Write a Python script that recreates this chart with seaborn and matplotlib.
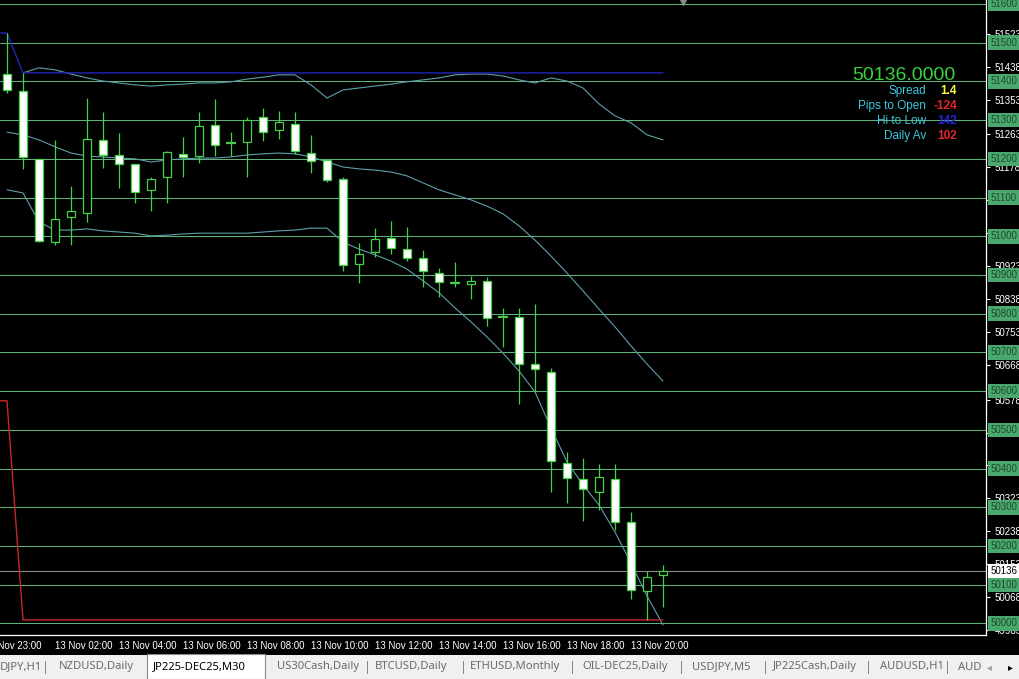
import matplotlib
matplotlib.use("Agg")
import matplotlib.pyplot as plt
import matplotlib.transforms as mtransforms
from matplotlib.patches import Rectangle
import seaborn as sns

# JP225-DEC25, M30 candles (bar 0 = first visible bar)
bar_idx = list(range(42))
opens = [51419, 51375, 51200, 50985, 51050, 51060, 51249, 51210, 51187, 51120,
         51153, 51213, 51207, 51287, 51241, 51244, 51308, 51275, 51290, 51215,
         51197, 51148, 50928, 50959, 50996, 50967, 50944, 50905, 50879, 50877,
         50885, 50792, 50792, 50670, 50649, 50414, 50373, 50340, 50373, 50262,
         50084, 50125]
highs = [51525, 51422, 51200, 51249, 51130, 51357, 51321, 51267, 51187, 51153,
         51220, 51256, 51321, 51355, 51269, 51308, 51331, 51324, 51321, 51262,
         51197, 51153, 50983, 51021, 51040, 51024, 50965, 50918, 50934, 50897,
         50895, 50815, 50815, 50825, 50660, 50443, 50427, 50412, 50412, 50288,
         50135, 50151]
lows = [51370, 51174, 50985, 50978, 50978, 51037, 51176, 51125, 51086, 51065,
        51086, 51153, 51189, 51207, 51207, 51153, 51246, 51251, 51213, 51163,
        51140, 50910, 50879, 50947, 50954, 50936, 50869, 50843, 50869, 50838,
        50768, 50714, 50567, 50598, 50340, 50311, 50265, 50293, 50241, 50063,
        50009, 50042]
closes = [51378, 51205, 50988, 51045, 51065, 51251, 51210, 51187, 51114, 51148,
          51218, 51205, 51285, 51236, 51241, 51300, 51269, 51295, 51220, 51194,
          51145, 50926, 50954, 50993, 50970, 50944, 50910, 50882, 50879, 50885,
          50789, 50792, 50670, 50657, 50420, 50376, 50347, 50378, 50262, 50086,
          50120, 50136]

# bands
upper_idx = list(range(1, 42))
upper_band = [51422, 51435, 51430, 51419, 51409, 51401, 51396, 51391, 51388, 51391,
              51393, 51396, 51396, 51399, 51406, 51411, 51417, 51417, 51391, 51357,
              51378, 51383, 51388, 51393, 51399, 51404, 51409, 51417, 51419, 51419,
              51414, 51404, 51396, 51409, 51401, 51383, 51342, 51311, 51293, 51262,
              51249]
middle_band = [51269, 51262, 51249, 51231, 51215, 51207, 51205, 51202, 51200, 51192,
               51197, 51200, 51202, 51202, 51205, 51210, 51213, 51215, 51213, 51205,
               51192, 51179, 51174, 51171, 51166, 51156, 51138, 51120, 51107, 51094,
               51078, 51058, 51027, 50990, 50949, 50905, 50859, 50812, 50766, 50717,
               50670, 50626]
lower_band = [51120, 51112, 51037, 51016, 51016, 51019, 51014, 51011, 51008, 51001,
              51003, 51006, 51008, 51008, 51008, 51008, 51011, 51014, 51016, 51021,
              51021, 50985, 50967, 50952, 50936, 50915, 50885, 50854, 50815, 50779,
              50740, 50698, 50652, 50598, 50505, 50417, 50358, 50306, 50236, 50156,
              50071, 49996]

# day high / low step lines
day_line_idx = [-1, 0, 1, 41]
day_high = [51525, 51525, 51422, 51422]
day_low = [50575, 50575, 50009, 50009]

current_price = 50136
grid_levels = [50000, 50100, 50200, 50300, 50400, 50500, 50600, 50700, 50800,
               50900, 51000, 51100, 51200, 51300, 51400, 51500, 51600]
scale_ticks = [51523, 51438, 51353, 51263, 51178, 51093, 51008, 50923, 50838,
               50753, 50668, 50578, 50493, 50408, 50323, 50238, 50153, 50068, 49983]

time_tick_idx = [3, 7, 11, 15, 19, 23, 27, 31, 35, 39]
time_tick_labels = ["13 Nov 02:00", "13 Nov 04:00", "13 Nov 06:00", "13 Nov 08:00",
                    "13 Nov 10:00", "13 Nov 12:00", "13 Nov 14:00", "13 Nov 16:00",
                    "13 Nov 18:00", "13 Nov 20:00"]
first_tick_idx = -1
first_tick_label = "12 Nov 23:00"

info_labels = ["Spread", "Pips to Open", "Hi to Low", "Daily Av"]
info_values = ["1.4", "-124", "142", "102"]
info_colors = ["#ffff33", "#e8262a", "#2424e0", "#e8262a"]

tab_labels = ["DJPY,H1", "NZDUSD,Daily", "JP225-DEC25,M30", "US30Cash,Daily",
              "BTCUSD,Daily", "ETHUSD,Monthly", "OIL-DEC25,Daily", "USDJPY,M5",
              "JP225Cash,Daily", "AUDUSD,H1", "AUD"]
active_tab = "JP225-DEC25,M30"

# layout (pixels)
W, H = 1020, 679
tab_left_px = [0, 59, 153, 277, 375, 470, 582, 692, 773, 880, 958]
sep_px = [45, 367, 463, 572, 681, 765, 868, 947]

CANDLE = "#45d045"
GRID = "#62b27c"
BAND = "#5f9eac"

sns.set_theme(style="dark", rc={"axes.facecolor": "black", "figure.facecolor": "black"})
plt.rcParams["font.family"] = ["Liberation Sans", "DejaVu Sans"]

fig = plt.figure(figsize=(W / 100, H / 100), dpi=100, facecolor="black")
ax = fig.add_axes([0, 44 / H, 986 / W, 635 / H])
ax.set_facecolor("black")

y_top = 51610.3
y_bot = 49970.1
ax.set_xlim(-0.4375, 61.1875)
ax.set_ylim(y_bot, y_top)

for lv in grid_levels:
    ax.axhline(lv, color=GRID, lw=0.75, zorder=1)
ax.axhline(current_price, color="#8e8e8e", lw=0.75, zorder=1.5)

sns.lineplot(x=upper_idx, y=upper_band, ax=ax, color=BAND, lw=0.8, zorder=2)
sns.lineplot(x=bar_idx, y=middle_band, ax=ax, color=BAND, lw=0.8, zorder=2)
sns.lineplot(x=bar_idx, y=lower_band, ax=ax, color=BAND, lw=0.8, zorder=2)
sns.lineplot(x=day_line_idx, y=day_high, ax=ax, color="#2323b8", lw=1.0, zorder=2.2)
sns.lineplot(x=day_line_idx, y=day_low, ax=ax, color="#c82828", lw=1.0, zorder=2.2)

# candles
ax.vlines(bar_idx, lows, highs, color=CANDLE, lw=0.9, zorder=3)
for i, o, c in zip(bar_idx, opens, closes):
    if o == c:
        ax.hlines(o, i - 0.3, i + 0.3, color=CANDLE, lw=1.6, zorder=4)
        continue
    face = "black" if c > o else "white"
    ax.bar(i, abs(c - o), bottom=min(o, c), width=0.56, color=face,
           edgecolor=CANDLE, linewidth=0.9, zorder=4)

# axes frame
for side in ["top", "left"]:
    ax.spines[side].set_visible(False)
for side in ["right", "bottom"]:
    ax.spines[side].set_color("white")
    ax.spines[side].set_linewidth(0.9)

# price scale
ax.yaxis.tick_right()
ax.set_yticks(scale_ticks)
ax.set_yticklabels([str(v) for v in scale_ticks])
ax.tick_params(axis="y", colors="white", labelsize=7, length=3, width=0.8, pad=3)
ax.grid(False)

trans = mtransforms.blended_transform_factory(ax.transAxes, ax.transData)
for lv in grid_levels:
    ax.text(1.0046, lv, str(lv), transform=trans, ha="left", va="center",
            fontsize=7, color="#1d4a2e", zorder=6, clip_on=False,
            bbox=dict(facecolor="#4aa86e", edgecolor="none", pad=1.6))
ax.text(1.0046, current_price, str(current_price), transform=trans, ha="left",
        va="center", fontsize=7, color="black", zorder=7, clip_on=False,
        bbox=dict(facecolor="white", edgecolor="none", pad=1.6))

# time scale
ax.set_xticks(time_tick_idx)
ax.set_xticklabels(time_tick_labels)
ax.tick_params(axis="x", colors="white", labelsize=7, length=3, width=0.8, pad=1)
for lab in ax.get_xticklabels():
    lab.set_ha("left")
xtrans = mtransforms.blended_transform_factory(ax.transData, ax.transAxes)
ax.text(first_tick_idx - 0.45, -0.0088, first_tick_label, transform=xtrans,
        ha="left", va="top", fontsize=7, color="white", clip_on=False)

# chart shift marker
ax.plot([42.25], [y_top - 5], marker="v", ms=5, color="#8c8c8c", clip_on=False, zorder=5)

# info panel
fig.text(955 / W, 1 - 75 / H, "50136.0000", ha="right", va="center",
         fontsize=14, color="#3ad23a")
for k, (lab, val, col) in enumerate(zip(info_labels, info_values, info_colors)):
    y = 1 - (90.7 + 15 * k) / H
    fig.text(926 / W, y, lab, ha="right", va="center", fontsize=8.5, color="#3cc8dc")
    fig.text(957 / W, y, val, ha="right", va="center", fontsize=8.5, color=col,
             fontweight="bold")

# tab bar
fig.patches.append(Rectangle((0, 0), 1, 24 / H, transform=fig.transFigure,
                             facecolor="#f0f0f0", edgecolor="none", zorder=0))
fig.patches.append(Rectangle((147 / W, 0), 118 / W, 25 / H, transform=fig.transFigure,
                             facecolor="white", edgecolor="#8a8a8a", lw=0.8, zorder=1))
for lab, xp in zip(tab_labels, tab_left_px):
    active = lab == active_tab
    fig.text(xp / W, 12 / H, lab, ha="left", va="center", fontsize=8.1,
             family=["Noto Sans", "DejaVu Sans"],
             color="black" if active else "#6b6b6b")
for xp in sep_px:
    fig.text(xp / W, 12 / H, "|", ha="center", va="center", fontsize=9,
             family=["Noto Sans", "DejaVu Sans"], color="#7a7a7a")
fig.text(987 / W, 12 / H, "\u25c2", ha="left", va="center", fontsize=7,
         family="DejaVu Sans", color="#9a9a9a")
fig.text(1008 / W, 12 / H, "\u25b8", ha="left", va="center", fontsize=7,
         family="DejaVu Sans", color="black")

fig.savefig("out.png", dpi=100, facecolor="black")
